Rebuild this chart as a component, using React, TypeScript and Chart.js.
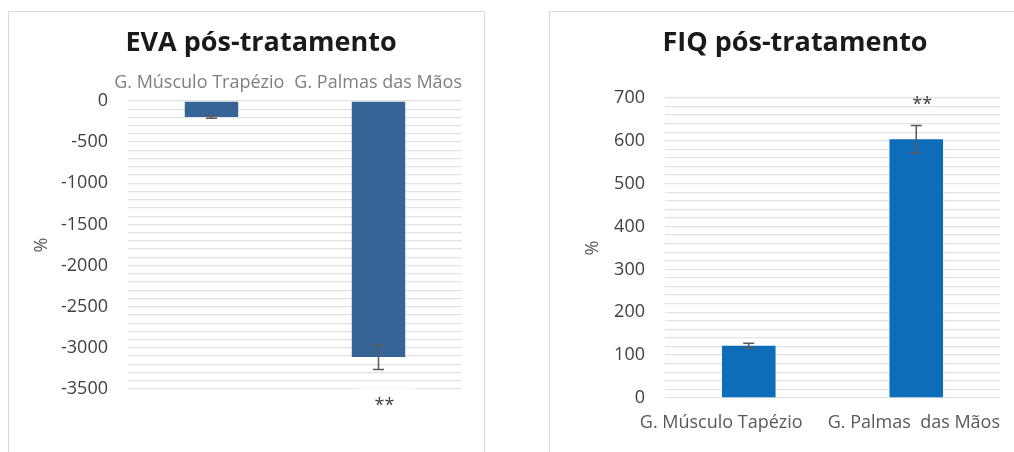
import React, { useEffect, useRef } from "react";
import { Chart, registerables } from "chart.js";

Chart.register(...registerables);

// ---------- data ----------
const evaCategories = ["G. Músculo Trapézio", "G. Palmas das Mãos"];
const evaValues = [-195, -3110];
const evaErrors = [15, 152];
const evaSignif = ["", "**"];

const fiqCategories = ["G. Músculo Tapézio", "G. Palmas  das Mãos"];
const fiqValues = [122, 604];
const fiqErrors = [6, 32];
const fiqSignif = ["", "**"];

const evaAxis = { min: -3500, max: 0, minorStep: 100, labelStep: 500 };
const fiqAxis = { min: 0, max: 700, minorStep: 20, labelStep: 100 };

const FONT = "'Open Sans', 'DejaVu Sans', sans-serif";

type Extra = {
  errors: number[];
  signif: string[];
  signifPlace: "above" | "below";
  signifOffset: number;
  signifBg: boolean;
};

const errorBarPlugin = {
  id: "errorBars",
  afterDatasetsDraw(chart: any, _args: any, opts: any) {
    const extra: Extra = opts.extra;
    if (!extra) return;
    const ctx = chart.ctx;
    const y = chart.scales.y;
    const meta = chart.getDatasetMeta(0);
    const values = chart.data.datasets[0].data as number[];
    ctx.save();
    meta.data.forEach((bar: any, i: number) => {
      const v = values[i];
      const e = extra.errors[i];
      const yHi = y.getPixelForValue(v + e);
      const yLo = y.getPixelForValue(v - e);
      const x = bar.x;
      ctx.strokeStyle = "#595959";
      ctx.lineWidth = 1.5;
      ctx.beginPath();
      ctx.moveTo(x, yHi);
      ctx.lineTo(x, yLo);
      ctx.moveTo(x - 5.5, yHi);
      ctx.lineTo(x + 5.5, yHi);
      ctx.moveTo(x - 5.5, yLo);
      ctx.lineTo(x + 5.5, yLo);
      ctx.stroke();

      const s = extra.signif[i];
      if (s) {
        const top = Math.min(yHi, yLo);
        const bottom = Math.max(yHi, yLo);
        const ly =
          extra.signifPlace === "above"
            ? top - extra.signifOffset
            : bottom + extra.signifOffset;
        ctx.font = `18px ${FONT}`;
        ctx.textAlign = "center";
        ctx.textBaseline = "middle";
        if (extra.signifBg) {
          ctx.fillStyle = "#ffffff";
          ctx.fillRect(x - 25, ly - 17, 62, 34);
        }
        ctx.fillStyle = "#404040";
        ctx.fillText(s, x + 6, ly);
      }
    });
    ctx.restore();
  },
};

// Category labels, placed like the spreadsheet does: centred on their
// category, kept inside the plot on the right, and pushed left when they
// would run into the next label.
const xLabelPlugin = {
  id: "xLabels",
  afterDraw(chart: any, _args: any, opts: any) {
    if (!opts || !opts.side) return;
    const ctx = chart.ctx;
    const xs = chart.scales.x;
    const area = chart.chartArea;
    const labels: string[] = chart.data.labels;
    ctx.save();
    ctx.font = `18px ${FONT}`;
    const widths = labels.map((l) => ctx.measureText(l).width);
    const centers = labels.map((_, i) => xs.getPixelForTick(i));
    for (let i = 0; i < labels.length; i++) {
      if (centers[i] + widths[i] / 2 > area.right) {
        centers[i] = area.right - widths[i] / 2;
      }
    }
    for (let i = labels.length - 2; i >= 0; i--) {
      const maxRight = centers[i + 1] - widths[i + 1] / 2 - opts.gap;
      if (centers[i] + widths[i] / 2 > maxRight) {
        centers[i] = maxRight - widths[i] / 2;
      }
    }
    const y =
      opts.side === "top" ? area.top - opts.offset : area.bottom + opts.offset;
    ctx.fillStyle = opts.color;
    ctx.textAlign = "center";
    ctx.textBaseline = "middle";
    labels.forEach((l, i) => ctx.fillText(l, centers[i], y));
    ctx.restore();
  },
};

function makeConfig(p: {
  title: string;
  labels: string[];
  values: number[];
  color: string;
  axis: { min: number; max: number; minorStep: number; labelStep: number };
  extra: Extra;
  xPos: "top" | "bottom";
  xColor: string;
  xGap: number;
  xOffset: number;
  layoutPad: any;
  titlePad: any;
  yWidth: number;
  xHeight: number;
  yTitlePad: number;
}) {
  return {
    type: "bar",
    data: {
      labels: p.labels,
      datasets: [
        {
          data: p.values,
          backgroundColor: p.color,
          borderWidth: 0,
          categoryPercentage: 1,
          barPercentage: 0.32,
        },
      ],
    },
    options: {
      animation: false,
      responsive: false,
      layout: { padding: p.layoutPad },
      plugins: {
        legend: { display: false },
        tooltip: { enabled: false },
        title: {
          display: true,
          text: p.title,
          color: "#1a1a1a",
          font: { family: FONT, size: 27, weight: "bold", lineHeight: 1.2 },
          padding: p.titlePad,
        },
        errorBars: { extra: p.extra },
        xLabels: { side: p.xPos, gap: p.xGap, offset: p.xOffset, color: p.xColor },
      },
      scales: {
        x: {
          position: p.xPos,
          grid: { display: false, drawTicks: false },
          border: { display: false },
          ticks: { display: false },
          afterFit: (s: any) => {
            s.height = p.xHeight;
          },
        },
        y: {
          min: p.axis.min,
          max: p.axis.max,
          grid: { color: "#e2e2e2", lineWidth: 1.3, drawTicks: false },
          border: { display: false },
          ticks: {
            stepSize: p.axis.minorStep,
            autoSkip: false,
            color: "#404040",
            font: { family: FONT, size: 18 },
            padding: 20,
            callback: (v: number) =>
              Math.round(v) % p.axis.labelStep === 0 ? String(Math.round(v)) : "",
          },
          title: {
            display: true,
            text: "%",
            color: "#595959",
            font: { family: FONT, size: 18 },
            padding: { top: p.yTitlePad, bottom: 0 },
          },
          afterFit: (s: any) => {
            s.width = p.yWidth;
          },
        },
      },
    },
    plugins: [errorBarPlugin, xLabelPlugin],
  };
}

function ChartBox(props: { left: number; width: number; config: any }) {
  const ref = useRef<HTMLCanvasElement | null>(null);
  useEffect(() => {
    if (!ref.current) return;
    const chart = new Chart(ref.current, props.config);
    return () => chart.destroy();
  }, []);
  return (
    <div
      style={{
        position: "absolute",
        left: props.left,
        top: 11,
        width: props.width,
        height: 440,
        border: "1px solid #d9d9d9",
        background: "#fff",
      }}
    >
      <canvas
        ref={ref}
        width={props.width}
        height={440}
        style={{ display: "block", width: props.width, height: 440 }}
      />
    </div>
  );
}

export default function App() {
  const evaConfig = makeConfig({
    title: "EVA pós-tratamento",
    labels: evaCategories,
    values: evaValues,
    color: "#376497",
    axis: evaAxis,
    extra: { errors: evaErrors, signif: evaSignif, signifPlace: "below", signifOffset: 36, signifBg: true },
    xPos: "top",
    xColor: "#7f7f7f",
    xGap: 10,
    xOffset: 18,
    layoutPad: { left: 51, right: 22, top: 0, bottom: 63 },
    titlePad: { top: 15, bottom: 4.6 },
    yWidth: 68,
    xHeight: 37,
    yTitlePad: -28.8,
  });
  const fiqConfig = makeConfig({
    title: "FIQ pós-tratamento",
    labels: fiqCategories,
    values: fiqValues,
    color: "#0e6db8",
    axis: fiqAxis,
    extra: { errors: fiqErrors, signif: fiqSignif, signifPlace: "above", signifOffset: 21, signifBg: false },
    xPos: "bottom",
    xColor: "#595959",
    xGap: 25,
    xOffset: 25,
    layoutPad: { left: 40, right: 20, top: 0, bottom: 0 },
    titlePad: { top: 15, bottom: 38.6 },
    yWidth: 75,
    xHeight: 54,
    yTitlePad: -7.8,
  });
  return (
    <div
      style={{
        position: "fixed",
        left: 0,
        top: 0,
        width: 1014,
        height: 452,
        overflow: "hidden",
        background: "#fff",
      }}
    >
      <ChartBox left={8} width={475} config={evaConfig} />
      <ChartBox left={549} width={470} config={fiqConfig} />
    </div>
  );
}
